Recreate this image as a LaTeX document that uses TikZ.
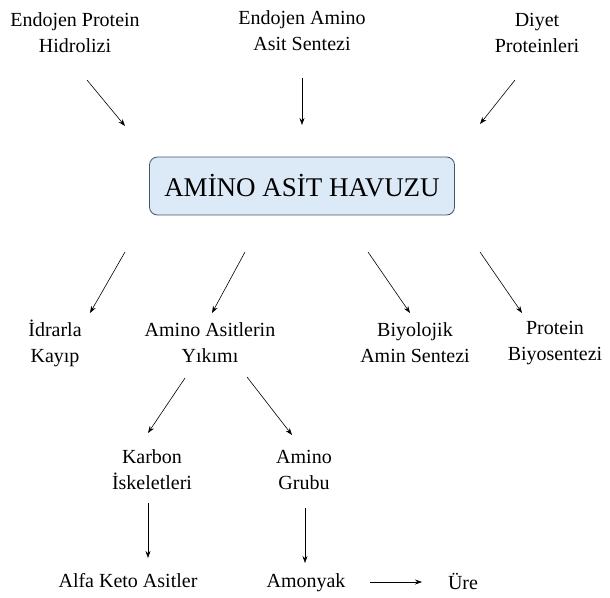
\documentclass[tikz,border=0pt]{standalone}
\usepackage{fontspec}
\setmainfont{Liberation Serif}
\usetikzlibrary{arrows.meta}
\definecolor{boxfill}{HTML}{DCE9F6}
\definecolor{boxline}{HTML}{44566E}
\begin{document}
\begin{tikzpicture}[x=1pt,y=-1pt,
  lbl/.style={align=center,font=\fontsize{20}{26}\selectfont,inner sep=0pt},
  arr/.style={-{Stealth[length=7pt,width=5pt]},line width=0.6pt},
  pool/.style={draw=boxline,fill=boxfill,rounded corners=8pt,line width=0.8pt,
    minimum width=305pt,minimum height=58pt,font=\fontsize{27}{32}\selectfont}]
\useasboundingbox (0,0) rectangle (610,597);
\node[pool] (pool) at (302,186) {AMİNO ASİT HAVUZU};
\node[lbl] (t1) at (75,33) {Endojen Protein\\Hidrolizi};
\node[lbl] (t2) at (302,31) {Endojen Amino\\Asit Sentezi};
\node[lbl] (t3) at (537,33) {Diyet\\Proteinleri};
\coordinate (t1s) at (87,80); \coordinate (t1e) at (125,126);
\coordinate (t2s) at (302,78); \coordinate (t2e) at (302,125);
\coordinate (t3s) at (515,80); \coordinate (t3e) at (480,124);
\draw[arr] (t1s) -- (t1e);
\draw[arr] (t2s) -- (t2e);
\draw[arr] (t3s) -- (t3e);
\node[lbl] (b1) at (55,343) {İdrarla\\Kayıp};
\node[lbl] (b2) at (210,343) {Amino Asitlerin\\Yıkımı};
\node[lbl] (b3) at (415,343) {Biyolojik\\Amin Sentezi};
\node[lbl] (b4) at (555,343) {Protein\\Biyosentezi};
\coordinate (p1) at (125,252); \coordinate (q1) at (90,313);
\coordinate (p2) at (245,252); \coordinate (q2) at (212,313);
\coordinate (p3) at (368,252); \coordinate (q3) at (410,313);
\coordinate (p4) at (480,252); \coordinate (q4) at (522,313);
\draw[arr] (p1) -- (q1);
\draw[arr] (p2) -- (q2);
\draw[arr] (p3) -- (q3);
\draw[arr] (p4) -- (q4);
\node[lbl] (c1) at (152,470) {Karbon\\İskeletleri};
\node[lbl] (c2) at (304,470) {Amino\\Grubu};
\coordinate (r1) at (185,378); \coordinate (s1) at (148,433);
\coordinate (r2) at (247,377); \coordinate (s2) at (292,435);
\draw[arr] (r1) -- (s1);
\draw[arr] (r2) -- (s2);
\node[lbl,anchor=base] (d1) at (128,587) {Alfa Keto Asitler};
\node[lbl,anchor=base] (d2) at (306,587) {Amonyak};
\node[lbl,anchor=base] (d3) at (463,589) {Üre};
\coordinate (u1) at (148,503); \coordinate (v1) at (148,558);
\coordinate (u2) at (305,508); \coordinate (v2) at (305,563);
\draw[arr] (u1) -- (v1);
\draw[arr] (u2) -- (v2);
\coordinate (w1) at (370,582); \coordinate (w2) at (422,582);
\draw[arr] (w1) -- (w2);
\end{tikzpicture}
\end{document}
